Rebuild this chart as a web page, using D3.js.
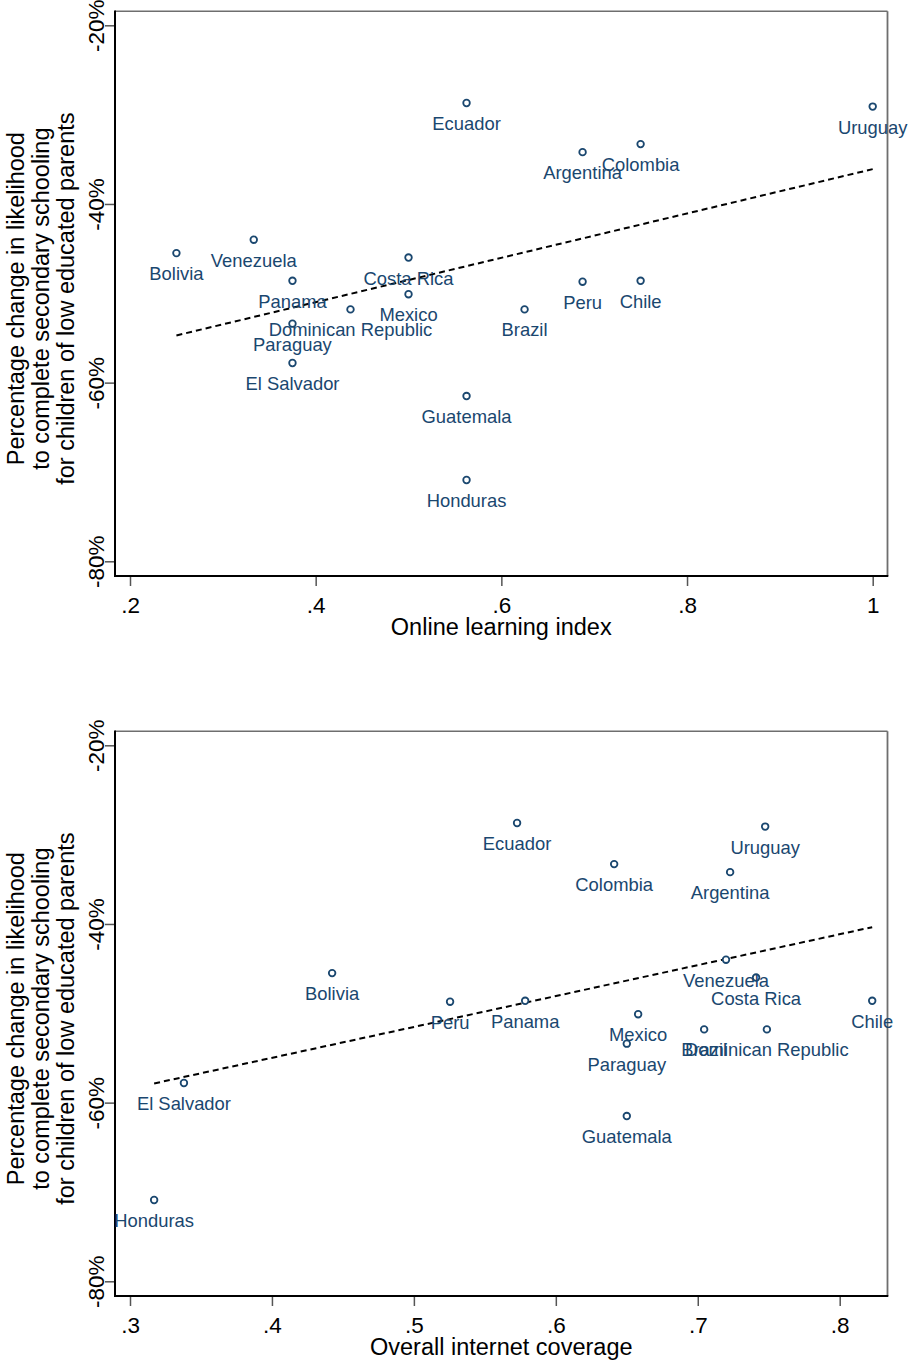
<!DOCTYPE html>
<html><head><meta charset="utf-8">
<script src="https://cdn.jsdelivr.net/npm/d3@7"></script>
<style>
html,body{margin:0;padding:0;background:#fff;}
svg{display:block;font-family:"Liberation Sans",Arial,sans-serif;}
</style></head>
<body>
<svg id="c" width="908" height="1362"></svg>
<script>
const countries = ["Ecuador","Uruguay","Argentina","Colombia","Bolivia","Venezuela","Panama","Costa Rica","Mexico","Dominican Republic","Paraguay","El Salvador","Guatemala","Honduras","Brazil","Peru","Chile"];
const pctChange = [-28.7,-29.1,-34.2,-33.3,-45.5,-44.0,-48.6,-46.0,-50.1,-51.8,-53.4,-57.8,-61.5,-70.9,-51.8,-48.7,-48.6];
const onlineIndex = [0.5625,1,0.6875,0.75,0.25,0.3333,0.375,0.5,0.5,0.4375,0.375,0.375,0.5625,0.5625,0.625,0.6875,0.75];
const internetCoverage = [0.5727,0.7475,0.7228,0.6411,0.4424,0.7199,0.5784,0.7411,0.658,0.7487,0.65,0.338,0.65,0.317,0.7045,0.5255,0.8229];
const yTicks = [-20,-40,-60,-80];
const xTicksTop = [0.2,0.4,0.6,0.8,1];
const xTicksBottom = [0.3,0.4,0.5,0.6,0.7,0.8];
const yTitleLines = ["Percentage change in likelihood","to complete secondary schooling","for children of low educated parents"];

const svg = d3.select("#c");
const navy = "#1a476f";

function fmtX(v){ return v === 1 ? "1" : d3.format(".1f")(v).replace(/^0/, ""); }

function panel(offsetY, xs, xDomain, xRange, xTicks, xTitle){
  const g = svg.append("g").attr("transform", `translate(0,${offsetY})`);
  const box = {l:115, r:887.5, t:11.3, b:576};
  const x = d3.scaleLinear().domain(xDomain).range(xRange);
  const y = d3.scaleLinear().domain([-20,-80]).range([25.3,561.3]);

  g.append("line").attr("x1",box.l).attr("x2",box.r).attr("y1",box.t).attr("y2",box.t)
    .attr("stroke","#6e6e6e").attr("stroke-width",1.5);
  g.append("line").attr("x1",box.r).attr("x2",box.r).attr("y1",box.t).attr("y2",box.b)
    .attr("stroke","#6e6e6e").attr("stroke-width",1.8);

  const ya = g.append("g").attr("transform",`translate(${box.l},0)`)
    .call(d3.axisLeft(y).tickValues(yTicks).tickSize(10).tickSizeOuter(0).tickFormat(d=>d+"%"));
  ya.select(".domain").remove();
  ya.selectAll(".tick line").attr("stroke","#555").attr("stroke-width",1.5);
  ya.selectAll(".tick text").attr("x",null).attr("dy",null)
    .attr("transform","translate(-11.5,0) rotate(-90)")
    .attr("text-anchor","middle").attr("font-size",22.5).attr("fill","#000")
    .style("font-family",'"Liberation Sans",Arial,sans-serif');

  const xa = g.append("g").attr("transform",`translate(0,${box.b})`)
    .call(d3.axisBottom(x).tickValues(xTicks).tickSize(10).tickSizeOuter(0).tickFormat(fmtX));
  xa.select(".domain").remove();
  xa.selectAll(".tick line").attr("stroke","#555").attr("stroke-width",1.5);
  xa.selectAll(".tick text").attr("y",36.5).attr("dy",null)
    .attr("font-size",22.5).attr("fill","#000")
    .style("font-family",'"Liberation Sans",Arial,sans-serif');

  g.append("line").attr("x1",box.l).attr("x2",box.l).attr("y1",box.t-0.7).attr("y2",box.b+1)
    .attr("stroke","#000").attr("stroke-width",2);
  g.append("line").attr("x1",box.l-1).attr("x2",box.r+0.8).attr("y1",box.b).attr("y2",box.b)
    .attr("stroke","#000").attr("stroke-width",2);

  g.append("text").attr("x",(box.l+box.r)/2).attr("y",box.b+59).attr("text-anchor","middle")
    .attr("font-size",23.5).attr("fill","#000").text(xTitle);
  const yt = g.append("text").attr("transform",`translate(0,${(box.t+box.b)/2 + 5}) rotate(-90)`)
    .attr("text-anchor","middle").attr("font-size",23.5).attr("fill","#000");
  yTitleLines.forEach((t,i)=>{
    yt.append("tspan").attr("x",0).attr("y",23.5 + i*25).text(t);
  });

  const pts = xs.map((v,i)=>({x:v,y:pctChange[i],name:countries[i]}));
  const mx = d3.mean(pts,d=>d.x), my = d3.mean(pts,d=>d.y);
  const sxy = d3.sum(pts,d=>(d.x-mx)*(d.y-my)), sxx = d3.sum(pts,d=>(d.x-mx)**2);
  const b = sxy/sxx, a = my - b*mx;
  const ext = d3.extent(pts,d=>d.x);
  g.append("path").datum(ext.map(v=>[v, a+b*v]))
    .attr("d", d3.line().x(d=>x(d[0])).y(d=>y(d[1])))
    .attr("fill","none").attr("stroke","#000").attr("stroke-width",2)
    .attr("stroke-dasharray","6,4");

  g.selectAll("circle.pt").data(pts).join("circle").attr("class","pt")
    .attr("cx",d=>x(d.x)).attr("cy",d=>y(d.y)).attr("r",3.3)
    .attr("fill","#fff").attr("stroke",navy).attr("stroke-width",1.8);
  g.selectAll("text.lbl").data(pts).join("text").attr("class","lbl")
    .attr("x",d=>x(d.x)).attr("y",d=>y(d.y)+27).attr("text-anchor","middle")
    .attr("font-size",18.4).attr("fill",navy).text(d=>d.name);
}

panel(0, onlineIndex, [0.2,1], [130,872.7], xTicksTop, "Online learning index");
panel(720, internetCoverage, [0.3,0.8], [130,839.7], xTicksBottom, "Overall internet coverage");
</script>
</body></html>
